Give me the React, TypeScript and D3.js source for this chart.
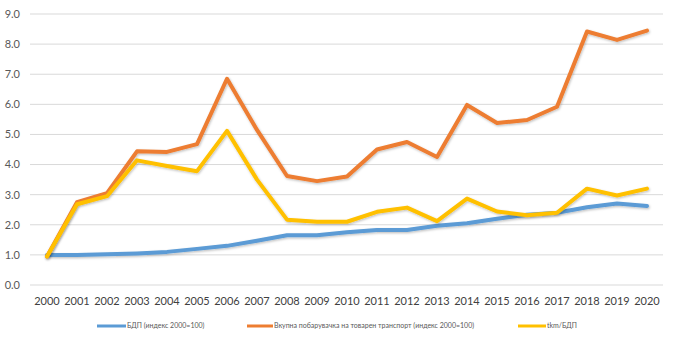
import React from "react";
import * as d3 from "d3";

const years = d3.range(2000, 2021).map(String);
const gdp = [1.0, 1.0, 1.02, 1.05, 1.1, 1.2, 1.3, 1.47, 1.65, 1.65, 1.75, 1.83, 1.83, 1.97, 2.05, 2.2, 2.33, 2.4, 2.58, 2.71, 2.62];
const freight = [0.95, 2.75, 3.05, 4.44, 4.42, 4.68, 6.85, 5.15, 3.62, 3.45, 3.6, 4.5, 4.75, 4.25, 5.98, 5.38, 5.48, 5.92, 8.42, 8.14, 8.45];
const tkmGdp = [0.95, 2.68, 2.95, 4.14, 3.95, 3.78, 5.12, 3.5, 2.17, 2.1, 2.1, 2.43, 2.57, 2.12, 2.87, 2.44, 2.32, 2.4, 3.2, 2.97, 3.2];
const yTicks = [0, 1, 2, 3, 4, 5, 6, 7, 8, 9];
const seriesNames = ["БДП (индекс 2000=100)", "Вкупна побарувачка на товарен транспорт (индекс 2000=100)", "tkm/БДП"];
const seriesColors = ["#5B9BD5", "#ED7D31", "#FFC000"];

export default function App() {
  const W = 675, H = 344;
  const x = d3.scaleBand<string>().domain(years).range([32, 662]);
  const y = d3.scaleLinear().domain([0, 9]).range([285, 14]);
  const cx = (d: string) => (x(d) as number) + x.bandwidth() / 2;
  const line = d3.line<number>().x((_, i) => cx(years[i])).y((v) => y(v));
  const data = [gdp, freight, tkmGdp];
  const legendX = [{ l: 97, t: 127 }, { l: 247, t: 274 }, { l: 518, t: 547 }];
  const font = "Lato, 'Open Sans', sans-serif";
  return (
    <svg width={W} height={H} style={{ position: "absolute", left: 0, top: 0 }}>
      <defs>
        <filter id="sh" x="-5%" y="-5%" width="110%" height="120%">
          <feDropShadow dx="0.8" dy="1.2" stdDeviation="1" floodColor="#000" floodOpacity="0.25" />
        </filter>
      </defs>
      <rect width={W} height={H} fill="#fff" />
      {yTicks.map((t) => (
        <g key={t}>
          <line x1={30} x2={663} y1={y(t)} y2={y(t)} stroke="#d9d9d9" strokeWidth={1} />
          <text x={20} y={y(t)} dy="0.35em" textAnchor="end" fontFamily={font} fontSize={11} fill="#595959">
            {t.toFixed(1)}
          </text>
        </g>
      ))}
      {years.map((yr) => (
        <text key={yr} x={cx(yr)} y={305} textAnchor="middle" fontFamily={font} fontSize={11} fill="#404040">
          {yr}
        </text>
      ))}
      {data.map((s, i) => (
        <path key={i} d={line(s) as string} fill="none" stroke={seriesColors[i]} strokeWidth={4} strokeLinejoin="round" strokeLinecap="round" filter="url(#sh)" />
      ))}
      {seriesNames.map((n, i) => (
        <g key={n}>
          <line x1={legendX[i].l} x2={legendX[i].t - 1} y1={326} y2={326} stroke={seriesColors[i]} strokeWidth={3} />
          <text x={legendX[i].t} y={326} dy="0.35em" fontFamily={font} fontSize={7} fill="#595959">
            {n}
          </text>
        </g>
      ))}
    </svg>
  );
}
